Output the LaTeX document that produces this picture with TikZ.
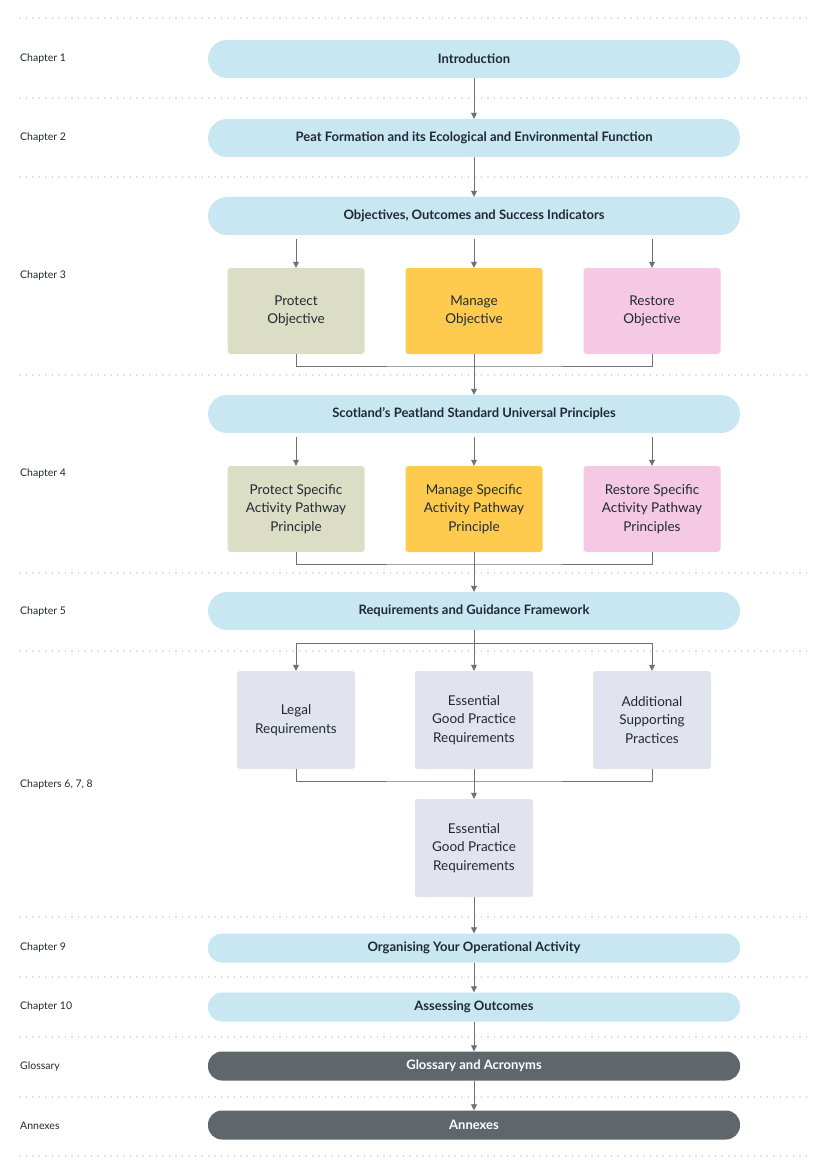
\documentclass[tikz,border=0pt]{standalone}
\usepackage{fontspec}
\setmainfont{Lato}
\usetikzlibrary{arrows.meta}
\definecolor{pill}{HTML}{C8E7F3}
\definecolor{olive}{HTML}{DCDDC5}
\definecolor{yel}{HTML}{FFCB4F}
\definecolor{pnk}{HTML}{F5C9E3}
\definecolor{lav}{HTML}{E1E3EE}
\definecolor{dark}{HTML}{5F676D}
\definecolor{txt}{HTML}{1F2A33}
\definecolor{ln}{HTML}{6B7378}
\definecolor{dots}{HTML}{C9CCCF}
\begin{document}
\begin{tikzpicture}[x=1pt,y=-1pt,
  pl/.style={rounded corners=19pt,fill=pill,draw=none,minimum width=532pt,minimum height=38pt,text=txt,font=\fontsize{13}{15}\selectfont\bfseries,inner sep=0},
  pls/.style={pl,minimum height=29pt,rounded corners=14pt},
  dk/.style={pl,fill=dark,text=white,minimum height=29pt,rounded corners=14pt},
  bx/.style={rounded corners=3pt,draw=none,minimum width=137pt,minimum height=86pt,align=center,text=txt,font=\fontsize{13.5}{18.5}\selectfont,inner sep=0},
  gb/.style={bx,fill=lav,minimum width=118pt,minimum height=98pt},
  ch/.style={anchor=west,text=txt,font=\fontsize{10.5}{12}\selectfont,inner sep=0},
  ar/.style={draw=ln,line width=0.8pt,-{Triangle[length=6pt,width=6pt]}},
  ln/.style={draw=ln,line width=0.6pt},
  dt/.style={draw=dots,line width=1.6pt,line cap=round,dash pattern=on 0pt off 6.5pt}]
\useasboundingbox (0,0) rectangle (830,1174);
\foreach \y in {18,98,177,375,573,651,917,977,1037,1097,1156}
  \draw[dt] (20,\y) -- (810,\y);
\node[ch] (c1) at (20,59) {Chapter 1};
\node[ch] (c2) at (20,138) {Chapter 2};
\node[ch] (c3) at (20,276) {Chapter 3};
\node[ch] (c4) at (20,474) {Chapter 4};
\node[ch] (c5) at (20,612) {Chapter 5};
\node[ch] (c6) at (20,785) {Chapters 6, 7, 8};
\node[ch] (c9) at (20,948) {Chapter 9};
\node[ch] (c10) at (20,1007) {Chapter 10};
\node[ch] (cg) at (20,1067) {Glossary};
\node[ch] (ca) at (20,1126) {Annexes};
\node[pl] (p1) at (474,59) {Introduction};
\node[pl] (p2) at (474,138) {Peat Formation and its Ecological and Environmental Function};
\node[pl] (p3) at (474,216) {Objectives, Outcomes and Success Indicators};
\node[pl] (p4) at (474,414) {Scotland’s Peatland Standard Universal Principles};
\node[pl] (p5) at (474,611) {Requirements and Guidance Framework};
\node[pls] (p9) at (474,948) {Organising Your Operational Activity};
\node[pls] (p10) at (474,1007) {Assessing Outcomes};
\node[dk] (pg) at (474,1066) {Glossary and Acronyms};
\node[dk] (pa) at (474,1125) {Annexes};
\node[bx,fill=olive] (a1) at (296,311) {Protect\\Objective};
\node[bx,fill=yel] (a2) at (474,311) {Manage\\Objective};
\node[bx,fill=pnk] (a3) at (652,311) {Restore\\Objective};
\node[bx,fill=olive] (b1) at (296,509) {Protect Specific\\Activity Pathway\\Principle};
\node[bx,fill=yel] (b2) at (474,509) {Manage Specific\\Activity Pathway\\Principle};
\node[bx,fill=pnk] (b3) at (652,509) {Restore Specific\\Activity Pathway\\Principles};
\node[gb] (r1) at (296,720) {Legal\\Requirements};
\node[gb] (r2) at (474,720) {Essential\\Good Practice\\Requirements};
\node[gb] (r3) at (652,720) {Additional\\Supporting\\Practices};
\node[gb] (r4) at (474,848) {Essential\\Good Practice\\Requirements};
\coordinate (j1) at (474,366);
\coordinate (j2) at (474,564);
\coordinate (j3) at (474,643);
\coordinate (j4) at (474,781);
\coordinate (k1) at (296,643);
\coordinate (k3) at (652,643);
\draw[ar] (p1) -- (p2);
\draw[ar] (p2) -- (p3);
\foreach \n in {a1,a2,a3} \draw[ar] ([yshift=-4pt]\n.north |- p3.south) -- (\n);
\foreach \n in {b1,b2,b3} \draw[ar] ([yshift=-4pt]\n.north |- p4.south) -- (\n);
\draw[ln] (a1.south) |- (j1) -| (a3.south);
\draw[ln] (a2) -- (j1);
\draw[ar] (j1) -- (p4);
\draw[ln] (b1.south) |- (j2) -| (b3.south);
\draw[ln] (b2) -- (j2);
\draw[ar] (j2) -- (p5);
\draw[ln] (p5) -- (j3);
\draw[ln] (k1) -- (k3);
\draw[ar] (j3) -- (r2);
\draw[ar] (k1) -- (r1);
\draw[ar] (k3) -- (r3);
\draw[ln] (r1.south) |- (j4) -| (r3.south);
\draw[ln] (r2) -- (j4);
\draw[ar] (j4) -- (r4);
\draw[ar] (r4) -- (p9);
\draw[ar] (p9) -- (p10);
\draw[ar] (p10) -- (pg);
\draw[ar] (pg) -- (pa);
\end{tikzpicture}
\end{document}
